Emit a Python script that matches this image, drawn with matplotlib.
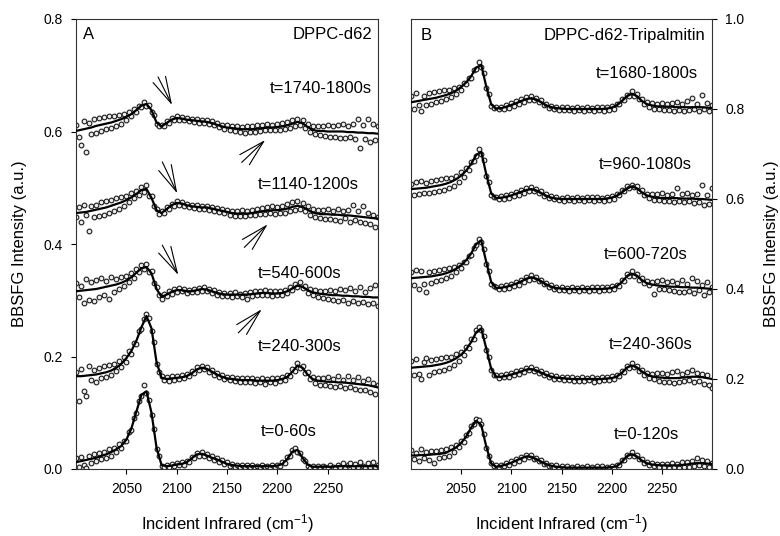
import numpy as np
import matplotlib.pyplot as plt
from matplotlib.ticker import FormatStrFormatter

plt.rcParams['font.family'] = ['Liberation Sans', 'DejaVu Sans']
plt.rcParams['mathtext.default'] = 'regular'

# wavenumber grids (cm-1): fitted curve every 5, measured points every 2.5
fit_x = np.arange(2000, 2301, 5)
pts_x = np.arange(2000, 2300.1, 2.5)

# ---- panel A: DPPC-d62, values in 0.001 a.u. ----
a_fit_0 = [12, 14, 16, 18, 20, 23, 26, 30, 35, 41,
           52, 72, 102, 132, 138, 100, 38, 7, 5, 6,
           8, 9, 12, 19, 26, 27, 24, 20, 17, 13,
           9, 7, 6, 5, 5, 5, 5, 5, 5, 5,
           6, 9, 18, 31, 34, 20, 8, 4, 4, 4,
           4, 4, 5, 5, 5, 5, 5, 5, 5, 5, 5]
a_pts_0 = [20, 4, 22, 8, 2, 24, 11, 26, 14, 28,
           17, 31, 20, 35, 24, 38, 30, 44, 37, 50,
           49, 66, 70, 91, 99, 121, 130, 150, 135, 122,
           96, 72, 35, 24, 5, 3, 8, 4, 9, 5,
           11, 7, 12, 8, 15, 13, 22, 20, 29, 24,
           30, 23, 27, 19, 23, 16, 20, 13, 16, 9,
           12, 6, 9, 4, 8, 3, 7, 3, 8, 4,
           7, 2, 6, 4, 8, 3, 6, 2, 7, 4,
           8, 5, 12, 11, 21, 23, 34, 38, 31, 29,
           17, 15, 6, 2, 6, 2, 5, 1, 6, 3,
           2, 7, 4, 1, 8, 3, 10, 2, 7, 11,
           3, 9, 4, 12, 6, 2, 10, 4, 13, 3, 8]

a_fit_1 = [165, 165, 166, 167, 168, 170, 172, 175, 180, 187,
           197, 210, 228, 252, 272, 250, 190, 162, 160, 161,
           162, 163, 165, 170, 177, 180, 178, 173, 168, 164,
           161, 160, 159, 158, 158, 158, 157, 157, 157, 157,
           158, 160, 164, 173, 184, 180, 168, 160, 157, 156,
           155, 155, 154, 154, 153, 152, 151, 150, 149, 147, 145]
a_pts_1 = [172, 121, 178, 138, 129, 183, 158, 176, 155, 180,
           162, 184, 164, 185, 168, 186, 174, 192, 181, 199,
           191, 210, 205, 224, 223, 246, 249, 266, 276, 268,
           245, 226, 186, 172, 165, 158, 164, 157, 165, 159,
           166, 160, 167, 161, 169, 165, 174, 171, 181, 176,
           184, 177, 182, 173, 176, 168, 171, 164, 167, 160,
           164, 158, 163, 156, 162, 155, 161, 154, 162, 155,
           161, 153, 160, 154, 161, 152, 160, 155, 161, 153,
           162, 156, 164, 159, 168, 166, 177, 175, 189, 180,
           184, 171, 172, 160, 163, 153, 162, 150, 161, 149,
           163, 148, 160, 146, 165, 147, 159, 144, 166, 145,
           158, 142, 164, 140, 157, 141, 160, 137, 153, 134, 150]

a_fit_2 = [316, 317, 318, 319, 320, 322, 324, 326, 328, 331,
           335, 341, 349, 357, 359, 348, 320, 306, 310, 315,
           318, 318, 316, 316, 318, 320, 319, 316, 313, 311,
           310, 310, 310, 310, 310, 311, 312, 313, 313, 312,
           312, 313, 316, 321, 326, 324, 318, 314, 312, 311,
           310, 309, 309, 308, 308, 307, 307, 306, 306, 305, 305]
a_pts_2 = [330, 305, 325, 296, 338, 300, 332, 298, 336, 306,
           340, 310, 335, 303, 341, 315, 338, 320, 342, 325,
           343, 333, 348, 340, 355, 350, 362, 356, 364, 350,
           352, 330, 324, 309, 303, 311, 307, 316, 312, 320,
           315, 321, 316, 320, 313, 319, 314, 320, 315, 322,
           317, 323, 316, 320, 313, 318, 310, 315, 308, 313,
           307, 313, 306, 314, 307, 312, 305, 313, 302, 314,
           308, 316, 309, 317, 310, 318, 309, 317, 308, 316,
           309, 317, 310, 318, 313, 323, 318, 329, 323, 332,
           321, 326, 313, 320, 309, 318, 306, 317, 304, 316,
           302, 319, 301, 317, 298, 320, 300, 318, 296, 322,
           299, 316, 295, 324, 297, 315, 294, 321, 296, 328, 290]

a_fit_3 = [455, 456, 457, 459, 461, 463, 465, 468, 471, 474,
           478, 483, 489, 496, 498, 482, 460, 455, 462, 469,
           473, 472, 469, 467, 466, 465, 465, 463, 461, 459,
           457, 455, 454, 454, 454, 455, 457, 458, 459, 460,
           460, 461, 463, 466, 468, 466, 461, 456, 454, 453,
           453, 452, 452, 451, 451, 450, 449, 448, 447, 446, 445]
a_pts_3 = [448, 466, 440, 470, 452, 424, 468, 448, 470, 450,
           474, 452, 476, 456, 478, 459, 481, 463, 484, 468,
           486, 474, 490, 481, 495, 488, 502, 493, 505, 486,
           485, 468, 463, 454, 458, 455, 465, 462, 472, 468,
           476, 470, 475, 468, 472, 466, 470, 464, 469, 463,
           468, 462, 467, 461, 466, 459, 464, 457, 462, 455,
           460, 452, 459, 450, 458, 449, 460, 450, 459, 451,
           461, 452, 463, 453, 464, 454, 466, 455, 467, 454,
           466, 456, 468, 455, 471, 458, 474, 461, 476, 462,
           473, 458, 468, 452, 462, 448, 461, 446, 460, 445,
           462, 444, 459, 443, 463, 441, 458, 446, 461, 440,
           470, 442, 458, 439, 468, 437, 456, 436, 452, 430, 448]

a_fit_4 = [601, 603, 605, 607, 610, 612, 614, 616, 619, 622,
           626, 631, 638, 646, 649, 638, 616, 609, 615, 621,
           624, 623, 621, 620, 619, 618, 617, 615, 612, 609,
           607, 606, 605, 604, 604, 604, 605, 606, 607, 607,
           608, 609, 611, 614, 617, 615, 608, 603, 601, 601,
           600, 600, 600, 600, 599, 599, 598, 598, 597, 597, 596]
a_pts_4 = [612, 590, 576, 618, 564, 615, 596, 622, 598, 624,
           601, 625, 604, 628, 607, 627, 610, 630, 614, 632,
           620, 634, 627, 640, 635, 645, 643, 652, 646, 647,
           634, 630, 613, 609, 611, 609, 618, 615, 624, 620,
           627, 621, 626, 620, 624, 618, 623, 617, 622, 616,
           621, 615, 620, 613, 618, 611, 615, 608, 612, 605,
           611, 603, 610, 601, 609, 599, 608, 598, 609, 600,
           610, 599, 611, 601, 612, 602, 613, 602, 612, 603,
           614, 603, 615, 605, 617, 606, 621, 609, 623, 612,
           621, 606, 614, 600, 610, 595, 609, 593, 610, 592,
           611, 590, 609, 591, 612, 589, 614, 588, 610, 590,
           613, 587, 622, 570, 611, 586, 622, 582, 614, 585, 610]

a_labels = ['t=0-60s', 't=240-300s', 't=540-600s', 't=1140-1200s', 't=1740-1800s']

# ---- panel B: DPPC-d62-Tripalmitin, values in 0.001 a.u. ----
b_fit_0 = [30, 30, 31, 31, 32, 33, 34, 36, 42, 48,
           58, 72, 92, 107, 98, 50, 12, 5, 7, 10,
           14, 19, 24, 28, 27, 22, 16, 11, 7, 5,
           4, 3, 3, 3, 3, 3, 3, 3, 3, 3,
           4, 6, 15, 28, 33, 28, 19, 13, 10, 9,
           8, 8, 8, 8, 9, 10, 12, 13, 13, 12, 11]
b_pts_0 = [42, 22, 36, 18, 44, 24, 38, 20, 41, 14,
           40, 25, 43, 27, 44, 30, 48, 38, 53, 50,
           62, 61, 76, 79, 95, 100, 111, 109, 101, 78,
           47, 28, 14, 6, 8, 4, 10, 6, 13, 9,
           17, 13, 22, 18, 27, 23, 32, 26, 31, 23,
           25, 17, 19, 11, 14, 7, 10, 4, 8, 2,
           7, 1, 6, 1, 5, 0, 6, 1, 5, 0,
           6, 1, 5, 1, 7, 0, 6, 1, 5, 2,
           7, 3, 9, 8, 19, 20, 32, 29, 37, 30,
           31, 22, 22, 14, 16, 9, 13, 6, 12, 5,
           11, 4, 12, 3, 13, 4, 12, 3, 15, 4,
           16, 5, 18, 7, 25, 8, 20, 6, 18, 5, 14]

b_fit_1 = [225, 226, 227, 228, 229, 231, 233, 236, 240, 246,
           254, 266, 282, 304, 312, 268, 222, 205, 205, 207,
           210, 213, 217, 221, 222, 219, 214, 209, 205, 203,
           202, 201, 200, 200, 200, 200, 200, 200, 200, 201,
           202, 205, 213, 225, 230, 226, 217, 210, 206, 204,
           203, 202, 202, 202, 203, 204, 205, 205, 204, 202, 200]
b_pts_1 = [240, 208, 244, 212, 200, 238, 246, 210, 242, 215,
           245, 218, 247, 221, 248, 225, 250, 232, 255, 240,
           261, 253, 272, 268, 288, 290, 309, 316, 308, 296,
           264, 248, 219, 210, 208, 203, 209, 204, 211, 205,
           214, 208, 217, 211, 221, 215, 225, 219, 227, 218,
           223, 214, 218, 209, 213, 204, 208, 201, 206, 199,
           205, 198, 204, 197, 204, 196, 203, 195, 204, 196,
           203, 197, 204, 194, 203, 196, 205, 197, 204, 198,
           206, 199, 209, 206, 218, 216, 230, 225, 236, 226,
           230, 218, 221, 210, 214, 203, 212, 199, 213, 196,
           214, 194, 212, 193, 215, 192, 218, 194, 212, 196,
           216, 197, 220, 194, 214, 196, 212, 190, 208, 186, 180]

b_fit_2 = [424, 425, 426, 427, 428, 430, 432, 435, 439, 445,
           453, 464, 479, 500, 508, 460, 415, 402, 403, 405,
           408, 412, 417, 423, 426, 423, 417, 410, 405, 402,
           401, 400, 400, 400, 400, 400, 400, 400, 400, 401,
           402, 406, 415, 428, 434, 430, 420, 413, 410, 408,
           407, 406, 405, 405, 404, 404, 403, 403, 402, 401, 400]
b_pts_2 = [438, 410, 442, 400, 440, 412, 393, 437, 414, 441,
           417, 443, 420, 444, 424, 446, 430, 449, 438, 454,
           447, 461, 459, 474, 476, 492, 497, 512, 505, 489,
           456, 441, 412, 406, 405, 400, 406, 401, 409, 403,
           412, 406, 416, 410, 421, 415, 427, 421, 431, 422,
           427, 418, 421, 411, 414, 405, 408, 401, 405, 398,
           404, 397, 403, 396, 404, 397, 403, 396, 404, 397,
           403, 396, 404, 397, 404, 396, 405, 397, 404, 397,
           406, 400, 410, 407, 420, 418, 433, 428, 440, 430,
           434, 421, 424, 413, 417, 408, 415, 390, 418, 401,
           420, 399, 416, 397, 418, 396, 414, 394, 420, 393,
           412, 395, 424, 392, 418, 398, 410, 386, 415, 394, 405]

b_fit_3 = [622, 623, 624, 625, 627, 629, 631, 634, 638, 644,
           652, 663, 678, 698, 705, 655, 612, 602, 603, 605,
           608, 612, 616, 620, 622, 619, 613, 607, 603, 601,
           600, 600, 600, 600, 600, 600, 600, 600, 600, 601,
           603, 607, 614, 623, 628, 624, 615, 608, 605, 603,
           602, 602, 602, 602, 601, 601, 601, 600, 600, 599, 598]
b_pts_3 = [634, 610, 638, 612, 640, 614, 636, 613, 641, 615,
           642, 617, 644, 620, 646, 624, 647, 629, 652, 637,
           659, 648, 669, 664, 683, 684, 695, 712, 700, 686,
           651, 637, 609, 604, 605, 600, 606, 601, 609, 603,
           612, 606, 616, 610, 620, 614, 624, 618, 627, 618,
           623, 614, 617, 607, 611, 602, 606, 599, 604, 597,
           603, 596, 604, 597, 603, 596, 604, 597, 603, 596,
           604, 597, 605, 596, 604, 597, 603, 596, 605, 597,
           607, 600, 611, 609, 619, 617, 628, 625, 632, 626,
           628, 617, 619, 608, 612, 602, 612, 598, 611, 597,
           613, 596, 610, 595, 612, 594, 624, 596, 611, 593,
           613, 595, 610, 592, 612, 594, 632, 586, 608, 590, 625]

b_fit_4 = [815, 817, 819, 821, 823, 825, 828, 831, 835, 841,
           849, 859, 873, 892, 898, 850, 810, 801, 802, 805,
           809, 813, 818, 822, 824, 821, 815, 808, 804, 802,
           801, 800, 800, 800, 800, 800, 800, 800, 800, 801,
           803, 808, 817, 828, 834, 829, 818, 811, 808, 806,
           805, 805, 805, 804, 804, 804, 804, 804, 804, 803, 802]
b_pts_4 = [830, 800, 836, 808, 795, 828, 808, 835, 812, 838,
           815, 840, 818, 842, 822, 843, 827, 846, 834, 850,
           843, 858, 855, 870, 869, 886, 889, 905, 894, 880,
           846, 833, 807, 802, 804, 799, 805, 800, 809, 803,
           813, 807, 817, 811, 822, 816, 826, 820, 829, 820,
           825, 816, 819, 809, 812, 803, 807, 800, 805, 798,
           804, 797, 804, 797, 803, 796, 804, 797, 803, 796,
           804, 797, 803, 796, 805, 797, 804, 796, 805, 797,
           807, 800, 812, 811, 822, 821, 832, 829, 840, 829,
           833, 822, 822, 812, 815, 805, 813, 801, 812, 799,
           814, 797, 811, 798, 813, 796, 815, 797, 812, 795,
           818, 798, 825, 799, 812, 796, 832, 800, 814, 795, 808]

b_labels = ['t=0-120s', 't=240-360s', 't=600-720s', 't=960-1080s', 't=1680-1800s']

# label / arrow placement (data coords)
a_lab_x = [2184, 2181, 2181, 2181, 2192]
a_lab_y = [0.066, 0.2175, 0.348, 0.505, 0.677]
b_lab_x = [2235, 2239, 2234, 2233, 2235]
b_lab_y = [0.076, 0.276, 0.476, 0.676, 0.880]
down_tip = [(2095.4, 0.647), (2100.6, 0.490), (2101.6, 0.345)]
down_tail = [(2081.5, 0.697), (2085.7, 0.546), (2085.7, 0.398)]
up_tip = [(2188.0, 0.585), (2190.4, 0.435), (2184.5, 0.284)]
up_tail = [(2164.6, 0.545), (2167.2, 0.394), (2161.2, 0.242)]

fig = plt.figure(figsize=(7.8, 5.36), dpi=100)
axA = fig.add_axes([76 / 780, 1 - 469 / 536, 302 / 780, 450 / 536])
axB = fig.add_axes([411 / 780, 1 - 469 / 536, 301 / 780, 450 / 536])


def draw(ax, fits, pts):
    for f, p in zip(fits, pts):
        ax.plot(pts_x, np.array(p) / 1000, 'o', ms=3.4, mfc='#ededed', mec='#1a1a1a',
                mew=0.8, zorder=2)
        ax.plot(fit_x, np.array(f) / 1000, '-', color='k', lw=1.6, zorder=3)


draw(axA, [a_fit_0, a_fit_1, a_fit_2, a_fit_3, a_fit_4],
     [a_pts_0, a_pts_1, a_pts_2, a_pts_3, a_pts_4])
draw(axB, [b_fit_0, b_fit_1, b_fit_2, b_fit_3, b_fit_4],
     [b_pts_0, b_pts_1, b_pts_2, b_pts_3, b_pts_4])

for ax in (axA, axB):
    ax.set_xlim(2000, 2300)
    ax.set_xticks([2050, 2100, 2150, 2200, 2250])
    ax.yaxis.set_major_formatter(FormatStrFormatter('%.1f'))
    ax.tick_params(direction='out', length=3.6, width=0.8, labelsize=10, pad=6)
    for s in ax.spines.values():
        s.set_linewidth(0.8)
        s.set_color('#333333')
    ax.set_xlabel('Incident Infrared (cm$^{-1}$)', fontsize=12, labelpad=11)

axA.set_ylim(0, 0.8)
axA.set_yticks([0.0, 0.2, 0.4, 0.6, 0.8])
axA.set_ylabel('BBSFG Intensity (a.u.)', fontsize=12, labelpad=12)

axB.set_ylim(0, 1.0)
axB.set_yticks([0.0, 0.2, 0.4, 0.6, 0.8, 1.0])
axB.yaxis.tick_right()
axB.yaxis.set_label_position('right')
axB.set_ylabel('BBSFG Intensity (a.u.)', fontsize=12, labelpad=14)

for i in range(5):
    axA.text(a_lab_x[i], a_lab_y[i], a_labels[i], fontsize=12, ha='left', va='center')
    axB.text(b_lab_x[i], b_lab_y[i], b_labels[i], fontsize=12, ha='center', va='center')

axA.text(2007, 0.772, 'A', fontsize=12, ha='left', va='center')
axA.text(2294, 0.772, 'DPPC-d62', fontsize=12, ha='right', va='center')
axB.text(2010, 0.964, 'B', fontsize=12, ha='left', va='center')
axB.text(2293, 0.964, 'DPPC-d62-Tripalmitin', fontsize=12, ha='right', va='center')

arrow = dict(arrowstyle='->,head_length=1.9,head_width=0.5', lw=0.8, color='k',
             shrinkA=0, shrinkB=0)
for tip, tail in zip(down_tip + up_tip, down_tail + up_tail):
    axA.annotate('', xy=tip, xytext=tail, arrowprops=arrow)

fig.savefig('out.png', dpi=100)
